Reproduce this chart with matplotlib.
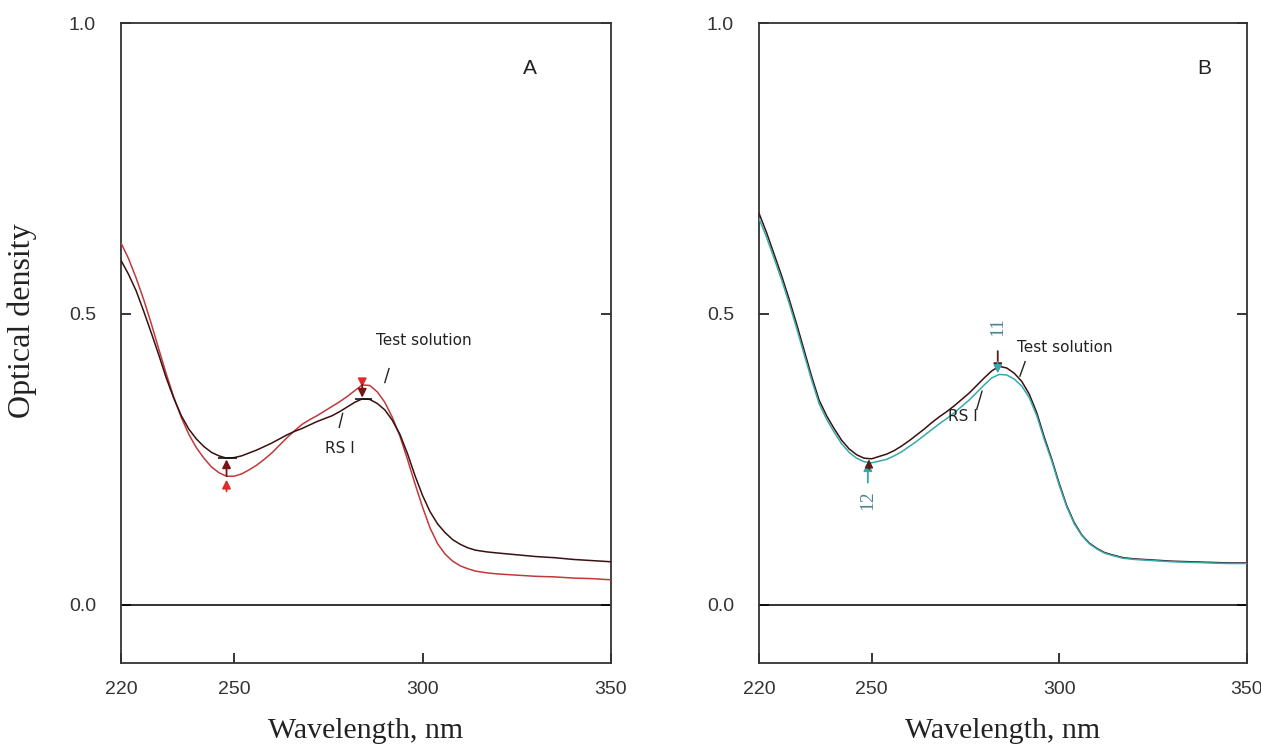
import matplotlib
matplotlib.use("Agg")
import matplotlib.pyplot as plt

# ---- data ----
wl_a = [220, 222, 224, 226, 228, 230, 232, 234, 236, 238, 240, 242, 244, 246, 248,
        250, 252, 254, 256, 258, 260, 262, 264, 266, 268, 270, 272, 274, 276, 278,
        280, 282, 284, 286, 288, 290, 292, 294, 296, 298, 300, 302, 304, 306, 308,
        310, 312, 314, 317, 320, 325, 330, 335, 340, 345, 350]
rs1_a = [0.592, 0.568, 0.540, 0.505, 0.468, 0.430, 0.390, 0.355, 0.325, 0.302, 0.285,
         0.272, 0.262, 0.256, 0.252, 0.253, 0.256, 0.261, 0.266, 0.272, 0.278, 0.285,
         0.292, 0.298, 0.303, 0.309, 0.315, 0.320, 0.325, 0.332, 0.340, 0.348, 0.354,
         0.353, 0.346, 0.335, 0.317, 0.293, 0.260, 0.222, 0.188, 0.160, 0.139, 0.124,
         0.112, 0.104, 0.098, 0.094, 0.091, 0.089, 0.086, 0.083, 0.081, 0.078, 0.076,
         0.074]
test_a = [0.622, 0.595, 0.562, 0.525, 0.484, 0.440, 0.397, 0.357, 0.322, 0.293, 0.270,
          0.252, 0.237, 0.227, 0.221, 0.221, 0.225, 0.232, 0.240, 0.250, 0.261, 0.274,
          0.287, 0.299, 0.310, 0.318, 0.325, 0.333, 0.341, 0.349, 0.358, 0.368, 0.378,
          0.377, 0.366, 0.348, 0.322, 0.290, 0.250, 0.208, 0.168, 0.132, 0.105, 0.087,
          0.075, 0.067, 0.062, 0.058, 0.055, 0.053, 0.051, 0.049, 0.048, 0.046, 0.045,
          0.043]

wl_b = wl_a
test_b = [0.673, 0.640, 0.603, 0.566, 0.526, 0.483, 0.438, 0.393, 0.352, 0.325, 0.303,
          0.283, 0.268, 0.258, 0.252, 0.251, 0.255, 0.259, 0.265, 0.273, 0.282, 0.292,
          0.302, 0.313, 0.323, 0.332, 0.342, 0.353, 0.364, 0.377, 0.390, 0.402, 0.410,
          0.407, 0.398, 0.384, 0.362, 0.330, 0.288, 0.250, 0.208, 0.170, 0.141, 0.120,
          0.106, 0.097, 0.090, 0.086, 0.081, 0.079, 0.077, 0.075, 0.074, 0.073, 0.072,
          0.072]
rs1_b = [0.664, 0.632, 0.596, 0.559, 0.519, 0.476, 0.431, 0.387, 0.346, 0.319, 0.297,
         0.277, 0.262, 0.252, 0.246, 0.244, 0.247, 0.250, 0.256, 0.263, 0.272, 0.281,
         0.291, 0.301, 0.311, 0.320, 0.330, 0.341, 0.352, 0.365, 0.378, 0.390, 0.396,
         0.395, 0.388, 0.376, 0.356, 0.325, 0.284, 0.247, 0.205, 0.168, 0.139, 0.119,
         0.105, 0.096, 0.089, 0.085, 0.080, 0.078, 0.076, 0.074, 0.073, 0.072, 0.071,
         0.071]

x_ticks = [220, 250, 300, 350]
y_ticks = [0.0, 0.5, 1.0]
y_ticklabels = ["0.0", "0.5", "1.0"]

# marked extrema (wavelength, lower value, upper value)
min_a = (248, 0.221, 0.252)
max_a = (284, 0.354, 0.378)
min_b = (249, 0.245, 0.252)
max_b = (283.6, 0.396, 0.410)

DARK = "#3a1010"
RED = "#c0393b"
TEAL = "#35aaaa"
TXT = "#222222"

fig = plt.figure(figsize=(12.61, 7.49), dpi=100)
ax_a = fig.add_axes([121 / 1261, 1 - 663 / 749, 490 / 1261, 640 / 749])
ax_b = fig.add_axes([759 / 1261, 1 - 663 / 749, 488 / 1261, 640 / 749])


def setup(ax, letter, lx):
    ax.set_xlim(220, 350)
    ax.set_ylim(-0.1, 1.0)
    ax.axhline(0.0, color="#111111", lw=1.2, zorder=1)
    ax.set_xticks(x_ticks)
    ax.set_xticklabels([str(t) for t in x_ticks], fontfamily="Liberation Sans",
                       fontsize=14, color="#333333")
    ax.set_yticks(y_ticks)
    ax.set_yticklabels(y_ticklabels, fontfamily="Liberation Sans",
                       fontsize=14, color="#333333")
    ax.tick_params(axis="x", direction="in", length=7, width=1.1, pad=13)
    ax.tick_params(axis="y", direction="in", length=7, width=1.1, pad=18,
                   right=True)
    for s in ax.spines.values():
        s.set_linewidth(1.3)
        s.set_color("#333333")
    ax.set_xlabel("Wavelength, nm", fontfamily="Liberation Serif", fontsize=21.5,
                  color="#222222", labelpad=14)
    ax.text(lx, 0.921, letter, fontfamily="Liberation Sans", fontsize=15,
            color="#222222", ha="center", va="center")


def arrow(ax, x, y0, y1, color, lw=1.3, hw=0.25, hl=0.5):
    ax.annotate("", xy=(x, y1), xytext=(x, y0),
                arrowprops=dict(arrowstyle="-|>,head_width=%s,head_length=%s" % (hw, hl),
                                color=color, lw=lw, shrinkA=0, shrinkB=0))


# ---- panel A ----
setup(ax_a, "A", 328.5)
ax_a.plot(wl_a, test_a, color=RED, lw=1.1, zorder=3)
ax_a.plot(wl_a, rs1_a, color=DARK, lw=1.1, zorder=3)
ax_a.hlines([min_a[2]], min_a[0] - 2.3, min_a[0] + 2.7, color="#111111", lw=1.2, zorder=4)
ax_a.hlines([max_a[1]], max_a[0] - 2.0, max_a[0] + 2.5, color="#111111", lw=1.2, zorder=4)
arrow(ax_a, min_a[0], min_a[1], min_a[2] - 0.002, "#7a1414")
arrow(ax_a, min_a[0], min_a[1] - 0.026, min_a[1] - 0.006, "#e02a2a")
arrow(ax_a, max_a[0], max_a[1] + 0.034, max_a[1] + 0.02, "#e02a2a")
arrow(ax_a, max_a[0], max_a[2], max_a[1] + 0.002, "#7a1414")

ax_a.text(287.6, 0.455, "Test solution", fontsize=11, color=TXT, va="center")
ax_a.plot([290.0, 291.1], [0.382, 0.406], color=TXT, lw=1.0)
ax_a.text(278.1, 0.269, "RS I", fontsize=11, color=TXT, ha="center", va="center")
ax_a.plot([277.9, 278.8], [0.305, 0.329], color=TXT, lw=1.0)

ax_a.set_ylabel("Optical density", fontfamily="Liberation Serif", fontsize=23,
                color="#222222")
ax_a.yaxis.set_label_coords(-0.172, 0.535)

# ---- panel B ----
setup(ax_b, "B", 338.7)
ax_b.plot(wl_b, test_b, color=DARK, lw=1.1, zorder=3)
ax_b.plot(wl_b, rs1_b, color=TEAL, lw=1.1, zorder=3)
arrow(ax_b, max_b[0], max_b[1] + 0.04, max_b[1] + 0.004, "#5a1a1a")
arrow(ax_b, max_b[0], max_b[1] + 0.022, 0.398, TEAL, lw=1.0)
arrow(ax_b, min_b[0], min_b[1] - 0.035, min_b[1], TEAL)
arrow(ax_b, min_b[0] + 0.3, min_b[1] - 0.012, min_b[2] - 0.002, "#5a1a1a", lw=1.0)

ax_b.text(max_b[0], 0.478, "11", fontfamily="Liberation Serif", fontsize=14,
          color="#4f8590", rotation=90, ha="center", va="center")
ax_b.text(min_b[0], 0.18, "12", fontfamily="Liberation Serif", fontsize=14,
          color="#4f8590", rotation=90, ha="center", va="center")

ax_b.text(288.8, 0.442, "Test solution", fontsize=11, color=TXT, va="center")
ax_b.plot([290.9, 289.5], [0.418, 0.393], color=TXT, lw=1.0)
ax_b.text(274.4, 0.324, "RS I", fontsize=11, color=TXT, ha="center", va="center")
ax_b.plot([279.4, 278.0], [0.367, 0.336], color=TXT, lw=1.0)

fig.savefig("out.png", dpi=100)
